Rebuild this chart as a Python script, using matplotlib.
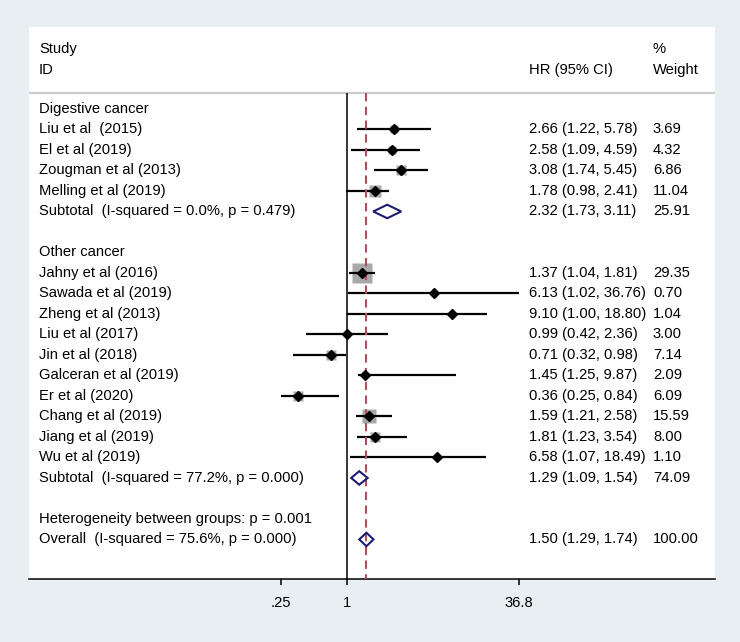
import matplotlib.pyplot as plt
import numpy as np
from matplotlib.patches import Polygon
from matplotlib.transforms import blended_transform_factory

plt.rcParams['font.family'] = ['Liberation Sans', 'DejaVu Sans']

# --- data ---
digestive_names = ["Liu et al  (2015)", "El et al (2019)", "Zougman et al (2013)", "Melling et al (2019)"]
digestive_hr = [2.66, 2.58, 3.08, 1.78]
digestive_lo = [1.22, 1.09, 1.74, 0.98]
digestive_hi = [5.78, 4.59, 5.45, 2.41]
digestive_w = [3.69, 4.32, 6.86, 11.04]
digestive_sub = (2.32, 1.73, 3.11, 25.91)
digestive_sub_label = "Subtotal  (I-squared = 0.0%, p = 0.479)"

other_names = ["Jahny et al (2016)", "Sawada et al (2019)", "Zheng et al (2013)", "Liu et al (2017)",
               "Jin et al (2018)", "Galceran et al (2019)", "Er et al (2020)", "Chang et al (2019)",
               "Jiang et al (2019)", "Wu et al (2019)"]
other_hr = [1.37, 6.13, 9.10, 0.99, 0.71, 1.45, 0.36, 1.59, 1.81, 6.58]
other_lo = [1.04, 1.02, 1.00, 0.42, 0.32, 1.25, 0.25, 1.21, 1.23, 1.07]
other_hi = [1.81, 36.76, 18.80, 2.36, 0.98, 9.87, 0.84, 2.58, 3.54, 18.49]
other_w = [29.35, 0.70, 1.04, 3.00, 7.14, 2.09, 6.09, 15.59, 8.00, 1.10]
other_sub = (1.29, 1.09, 1.54, 74.09)
other_sub_label = "Subtotal  (I-squared = 77.2%, p = 0.000)"

overall = (1.50, 1.29, 1.74, 100.00)
overall_label = "Overall  (I-squared = 75.6%, p = 0.000)"
het_label = "Heterogeneity between groups: p = 0.001"

tick_vals = [0.25, 1, 36.8]
tick_labels = [".25", "1", "36.8"]

groups = [
    ("Digestive cancer", digestive_names, digestive_hr, digestive_lo, digestive_hi, digestive_w,
     digestive_sub, digestive_sub_label),
    ("Other cancer", other_names, other_hr, other_lo, other_hi, other_w,
     other_sub, other_sub_label),
]

# --- styling ---
BG = '#e8eff2'
SQ = '#a8a8a8'
NAVY = '#1c1c74'
DASH = '#a9525c'
FS = 10.6

fig = plt.figure(figsize=(7.4, 6.42), dpi=100, facecolor=BG)
# white plot region (pixel box 29..715 x 27..579)
ax = fig.add_axes([29 / 740, (642 - 579) / 642, (715 - 29) / 740, (579 - 27) / 642])
ax.set_facecolor('white')
ax.set_xscale('log')
# 1 sits at px 347, 47.68 px per ln unit
ax.set_xlim(np.exp((29 - 347.1) / 47.68), np.exp((715 - 347.1) / 47.68))
ax.set_ylim(22.93, -4.0)

tr = blended_transform_factory(ax.transAxes, ax.transData)
X_NAME, X_HR, X_W = 0.0146, 0.729, 0.9096


def fmt(est, lo, hi):
    return f"{est:.2f} ({lo:.2f}, {hi:.2f})"


def diamond(y, est, lo, hi, h=0.33):
    ax.add_patch(Polygon([(lo, y), (est, y - h), (hi, y), (est, y + h)], closed=True,
                         fill=False, edgecolor=NAVY, lw=1.5, zorder=4))


# header
ax.text(X_NAME, -2.95, "Study", transform=tr, fontsize=FS, va='center')
ax.text(X_NAME, -1.9, "ID", transform=tr, fontsize=FS, va='center')
ax.text(X_HR, -1.9, "HR (95% CI)", transform=tr, fontsize=FS, va='center')
ax.text(X_W, -2.95, "%", transform=tr, fontsize=FS, va='center')
ax.text(X_W, -1.9, "Weight", transform=tr, fontsize=FS, va='center')
header_y = -0.78
ax.axhline(header_y, color='#cccccc', lw=1.6, zorder=1)

row = 0
for title, names, hr, lo, hi, w, sub, sub_label in groups:
    ax.text(X_NAME, row, title, transform=tr, fontsize=FS, va='center')
    row += 1
    for i in range(len(names)):
        ax.plot(hr[i], row, marker='s', ms=2.7 * np.sqrt(w[i]), color=SQ, mec='none', zorder=2)
        ax.plot([lo[i], hi[i]], [row, row], color='black', lw=1.6, zorder=3, solid_capstyle='butt')
        ax.plot(hr[i], row, marker='D', ms=4.6, color='black', zorder=5)
        ax.text(X_NAME, row, names[i], transform=tr, fontsize=FS, va='center')
        ax.text(X_HR, row, fmt(hr[i], lo[i], hi[i]), transform=tr, fontsize=FS, va='center')
        ax.text(X_W, row, f"{w[i]:.2f}", transform=tr, fontsize=FS, va='center')
        row += 1
    diamond(row, sub[0], sub[1], sub[2])
    ax.text(X_NAME, row, sub_label, transform=tr, fontsize=FS, va='center')
    ax.text(X_HR, row, fmt(*sub[:3]), transform=tr, fontsize=FS, va='center')
    ax.text(X_W, row, f"{sub[3]:.2f}", transform=tr, fontsize=FS, va='center')
    row += 2

ax.text(X_NAME, row, het_label, transform=tr, fontsize=FS, va='center')
row += 1
diamond(row, overall[0], overall[1], overall[2])
ax.text(X_NAME, row, overall_label, transform=tr, fontsize=FS, va='center')
ax.text(X_HR, row, fmt(*overall[:3]), transform=tr, fontsize=FS, va='center')
ax.text(X_W, row, f"{overall[3]:.2f}", transform=tr, fontsize=FS, va='center')

# null line and overall effect line
ax.vlines(1, header_y, 22.93, color='black', lw=1.1, zorder=3)
ax.vlines(overall[0], header_y, 22.93, color=DASH, lw=1.5, linestyles=(0, (4, 2.6)), zorder=3)

for s in ['top', 'left', 'right']:
    ax.spines[s].set_visible(False)
ax.spines['bottom'].set_linewidth(1.1)
ax.set_xticks(tick_vals)
ax.set_xticklabels(tick_labels, fontsize=FS)
ax.xaxis.set_minor_locator(plt.NullLocator())
ax.tick_params(axis='x', length=4.5, width=1.1, pad=8)
ax.set_yticks([])

fig.savefig('out.png', dpi=100, facecolor=BG)
